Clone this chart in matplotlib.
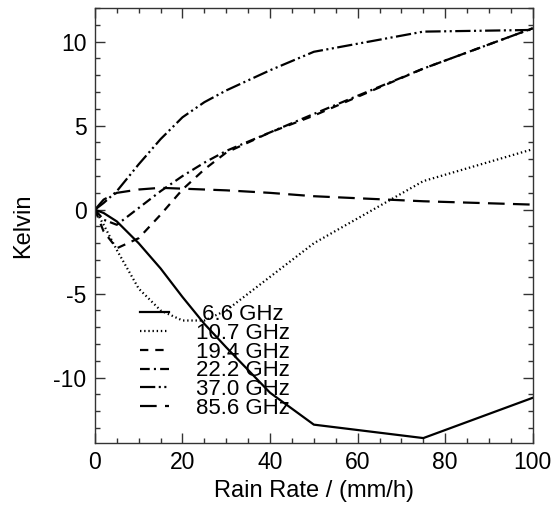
import numpy as np
import matplotlib
matplotlib.use('Agg')
import matplotlib.pyplot as plt
from matplotlib.ticker import MultipleLocator

plt.rcParams['font.family'] = ['Liberation Sans', 'DejaVu Sans']
plt.rcParams['axes.unicode_minus'] = False
plt.rcParams['lines.scale_dashes'] = False

# rain rates (mm/h) and brightness temperature change (K) per channel
rain = [0, 2, 5, 10, 15, 20, 25, 30, 40, 50, 75, 100]
tb_066 = [0, -0.2, -0.7, -2.0, -3.5, -5.2, -6.8, -8.2, -10.9, -12.8, -13.6, -11.2]
tb_107 = [0, -0.9, -2.4, -4.7, -6.0, -6.6, -6.6, -6.0, -4.0, -2.0, 1.7, 3.6]
tb_194 = [0, -1.3, -2.3, -1.7, -0.3, 1.2, 2.4, 3.4, 4.6, 5.6, 8.4, 10.8]
tb_222 = [0, -0.6, -0.9, 0.1, 1.1, 2.0, 2.8, 3.5, 4.6, 5.7, 8.4, 10.8]
tb_370 = [0, 0.4, 1.1, 2.7, 4.2, 5.5, 6.4, 7.1, 8.3, 9.4, 10.6, 10.7]
tb_856 = [0, 0.6, 1.0, 1.2, 1.3, 1.25, 1.2, 1.15, 1.0, 0.8, 0.5, 0.3]

labels = [' 6.6 GHz', '10.7 GHz', '19.4 GHz', '22.2 GHz', '37.0 GHz', '85.6 GHz']
series = [tb_066, tb_107, tb_194, tb_222, tb_370, tb_856]
styles = ['-', (0, (1, 2)), (0, (6, 5)), (0, (7, 3, 1.5, 3)),
          (0, (11, 2.5, 1.5, 2.5, 1.5, 2.5)), (0, (12, 6))]

fig = plt.figure(figsize=(5.55, 5.07), dpi=100)
ax = fig.add_axes([0.171, 0.126, 0.789, 0.858])

for y, lab, ls in zip(series, labels, styles):
    ax.plot(rain, y, color='black', lw=1.6, linestyle=ls, label=lab)

ax.set_xlim(0, 100)
ax.set_ylim(-13.9, 12.0)
ax.xaxis.set_major_locator(MultipleLocator(20))
ax.xaxis.set_minor_locator(MultipleLocator(5))
ax.yaxis.set_major_locator(MultipleLocator(5))
ax.yaxis.set_minor_locator(MultipleLocator(1))
ax.tick_params(which='both', direction='in', top=True, right=True,
               labelsize=16.5, color='#333333', width=1)
ax.tick_params(which='major', length=7, pad=6)
ax.tick_params(which='minor', length=3.6)
for sp in ax.spines.values():
    sp.set_color('#333333')
    sp.set_linewidth(1)

ax.set_xlabel('Rain Rate / (mm/h)', fontsize=17, labelpad=4)
ax.set_ylabel('Kelvin', fontsize=17, labelpad=14)

ax.legend(loc='lower left', bbox_to_anchor=(0.083, 0.035), frameon=False,
          fontsize=16, handlelength=1.3, handletextpad=1.2,
          labelspacing=-0.1, borderaxespad=0)

fig.savefig('out.png', dpi=100)
